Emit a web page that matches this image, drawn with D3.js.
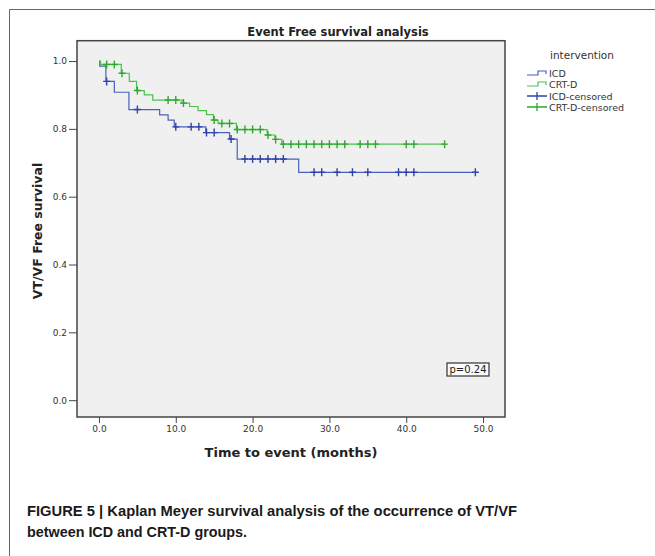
<!DOCTYPE html>
<html>
<head>
<meta charset="utf-8">
<script src="https://cdn.jsdelivr.net/npm/d3@7"></script>
<style>
  body { margin: 0; background: #fff; }
  svg { display: block; font-family: "DejaVu Sans", Verdana, sans-serif; }
</style>
</head>
<body>
<div id="chart"></div>
<script>
// data
var icdEventTime = [0.1, 0.9, 2.0, 3.9, 7.9, 9.0, 9.8, 13.9, 17.0, 18.0, 26.0];
var icdSurvival  = [0.985, 0.94, 0.908, 0.857, 0.841, 0.826, 0.806, 0.789, 0.77, 0.711, 0.672];
var icdCensorTime = [1, 5, 10, 12, 13, 14, 15, 17.2, 19, 20, 21, 22, 23, 24, 28, 29, 31, 33, 35, 39, 40, 41, 49];

var crtEventTime = [0.2, 2.9, 3.95, 4.9, 5.9, 7.0, 10.8, 11.8, 12.9, 14.0, 14.9, 15.5, 17.9, 21.9, 22.9, 23.8];
var crtSurvival  = [0.99, 0.964, 0.94, 0.913, 0.9, 0.885, 0.876, 0.866, 0.854, 0.842, 0.826, 0.816, 0.798, 0.782, 0.769, 0.755];
var crtCensorTime = [1, 2, 3, 5, 9, 10, 11, 15, 16, 17, 18, 19, 20, 21, 22, 23, 24, 25, 26, 27, 28, 29, 30, 31, 32, 34, 35, 36, 40, 41, 45];

var xTicks = [0, 10, 20, 30, 40, 50];
var yTicks = [0, 0.2, 0.4, 0.6, 0.8, 1.0];
var legendLabels = ["ICD", "CRT-D", "ICD-censored", "CRT-D-censored"];

var w = 655, h = 556;
var plot = { left: 77, top: 40.7, right: 505, bottom: 417 };

var blue = "#4b5fbd", blueDark = "#2f43a8",
    green = "#4cc24c", greenDark = "#2fa82f";

var svg = d3.select("#chart").append("svg")
    .attr("width", w)
    .attr("height", h);

// outer figure frame
svg.append("path")
    .attr("d", "M9.5," + h + "V9.5H" + w)
    .attr("fill", "none")
    .attr("stroke", "#666")
    .attr("stroke-width", 1);

var x = d3.scaleLinear().domain([-2.86, 52.86]).range([plot.left, plot.right]);
var y = d3.scaleLinear().domain([-0.0496, 1.06]).range([plot.bottom, plot.top]);

// plot background
svg.append("rect")
    .attr("x", plot.left).attr("y", plot.top)
    .attr("width", plot.right - plot.left)
    .attr("height", plot.bottom - plot.top)
    .attr("fill", "#f0f0f0");

// axes
var xAxis = svg.append("g")
    .attr("transform", "translate(0," + plot.bottom + ")")
    .call(d3.axisBottom(x).tickValues(xTicks).tickFormat(d3.format(".1f")).tickSize(6).tickPadding(3).tickSizeOuter(0));
xAxis.select(".domain").remove();
xAxis.selectAll("line").attr("stroke", "#444");
xAxis.selectAll("text").attr("fill", "#333").style("font-size", "9px").style("font-family", "DejaVu Sans, Verdana, sans-serif");

var yAxis = svg.append("g")
    .attr("transform", "translate(" + plot.left + ",0)")
    .call(d3.axisLeft(y).tickValues(yTicks).tickFormat(d3.format(".1f")).tickSize(8).tickPadding(2).tickSizeOuter(0));
yAxis.select(".domain").remove();
yAxis.selectAll("line").attr("stroke", "#444");
yAxis.selectAll("text").attr("fill", "#333").style("font-size", "9px").style("font-family", "DejaVu Sans, Verdana, sans-serif");

// step curves
function stepPoints(times, surv, endTime) {
  var pts = [[0, 1]];
  times.forEach(function(t, i) { pts.push([t, surv[i]]); });
  pts.push([endTime, surv[surv.length - 1]]);
  return pts;
}
function survAt(times, surv, t) {
  var s = 1;
  times.forEach(function(tt, i) { if (tt <= t) s = surv[i]; });
  return s;
}

var step = d3.line()
    .x(function(d) { return x(d[0]); })
    .y(function(d) { return y(d[1]); })
    .curve(d3.curveStepAfter);

svg.append("path")
    .datum(stepPoints(icdEventTime, icdSurvival, d3.max(icdCensorTime)))
    .attr("fill", "none")
    .attr("stroke", blue)
    .attr("stroke-width", 1.2)
    .attr("d", step);

svg.append("path")
    .datum(stepPoints(crtEventTime, crtSurvival, d3.max(crtCensorTime)))
    .attr("fill", "none")
    .attr("stroke", green)
    .attr("stroke-width", 1.2)
    .attr("d", step);

// censor marks
function crosses(times, evT, evS, color) {
  var g = svg.append("g");
  times.forEach(function(t) {
    var cx = x(t), cy = y(survAt(evT, evS, t));
    g.append("path")
      .attr("d", "M" + (cx - 3.5) + "," + cy + "H" + (cx + 3.5) + "M" + cx + "," + (cy - 4) + "V" + (cy + 4))
      .attr("stroke", color)
      .attr("stroke-width", 1.4)
      .attr("fill", "none");
  });
}
crosses(icdCensorTime, icdEventTime, icdSurvival, blueDark);
crosses(crtCensorTime, crtEventTime, crtSurvival, greenDark);

// plot border
svg.append("rect")
    .attr("x", plot.left).attr("y", plot.top)
    .attr("width", plot.right - plot.left)
    .attr("height", plot.bottom - plot.top)
    .attr("fill", "none")
    .attr("stroke", "#444")
    .attr("stroke-width", 1.5);

// p-value box
svg.append("rect")
    .attr("x", 447).attr("y", 363)
    .attr("width", 42).attr("height", 13)
    .attr("fill", "#fafafa")
    .attr("stroke", "#333")
    .attr("stroke-width", 1.2);
svg.append("text")
    .attr("x", 468).attr("y", 373)
    .attr("text-anchor", "middle")
    .style("font-size", "10px")
    .attr("fill", "#222")
    .text("p=0.24");

// titles
svg.append("text")
    .attr("x", 338).attr("y", 36)
    .attr("text-anchor", "middle")
    .style("font-size", "11.5px")
    .style("font-weight", "bold")
    .attr("fill", "#222")
    .text("Event Free survival analysis");

svg.append("text")
    .attr("x", 291).attr("y", 457)
    .attr("text-anchor", "middle")
    .style("font-size", "13px")
    .style("font-weight", "bold")
    .attr("fill", "#222")
    .text("Time to event (months)");

svg.append("text")
    .attr("transform", "translate(42,231) rotate(-90)")
    .attr("text-anchor", "middle")
    .style("font-size", "12.5px")
    .style("font-weight", "bold")
    .attr("fill", "#222")
    .text("VT/VF Free survival");

// legend
svg.append("text")
    .attr("x", 582).attr("y", 59)
    .attr("text-anchor", "middle")
    .style("font-size", "10.5px")
    .attr("fill", "#333")
    .text("intervention");

var legColors = [blue, green, blueDark, greenDark];
var legY = [73, 84, 96, 107];
legendLabels.forEach(function(lab, i) {
  var ly = legY[i], c = legColors[i];
  if (i < 2) {
    svg.append("path")
      .attr("d", "M527," + (ly + 2) + "H538V" + (ly - 2) + "H546V" + (ly + 1))
      .attr("fill", "none").attr("stroke", c).attr("stroke-width", 1.2);
  } else {
    svg.append("path")
      .attr("d", "M527," + ly + "H547M537," + (ly - 4) + "V" + (ly + 4))
      .attr("fill", "none").attr("stroke", c).attr("stroke-width", 1.3);
  }
  svg.append("text")
    .attr("x", 549).attr("y", ly + 3.5)
    .style("font-size", "9.5px")
    .attr("fill", "#333")
    .text(lab);
});

// caption
var cap = svg.append("g")
    .style("font-family", "'Liberation Sans', Arial, sans-serif")
    .style("font-size", "15.5px")
    .style("font-weight", "bold")
    .attr("fill", "#1a1a1a");
cap.append("text").attr("x", 27).attr("y", 516)
    .attr("textLength", 490).attr("lengthAdjust", "spacingAndGlyphs")
    .text("FIGURE 5 | Kaplan Meyer survival analysis of the occurrence of VT/VF");
cap.append("text").attr("x", 27).attr("y", 537)
    .attr("textLength", 220).attr("lengthAdjust", "spacingAndGlyphs")
    .text("between ICD and CRT-D groups.");
</script>
</body>
</html>
